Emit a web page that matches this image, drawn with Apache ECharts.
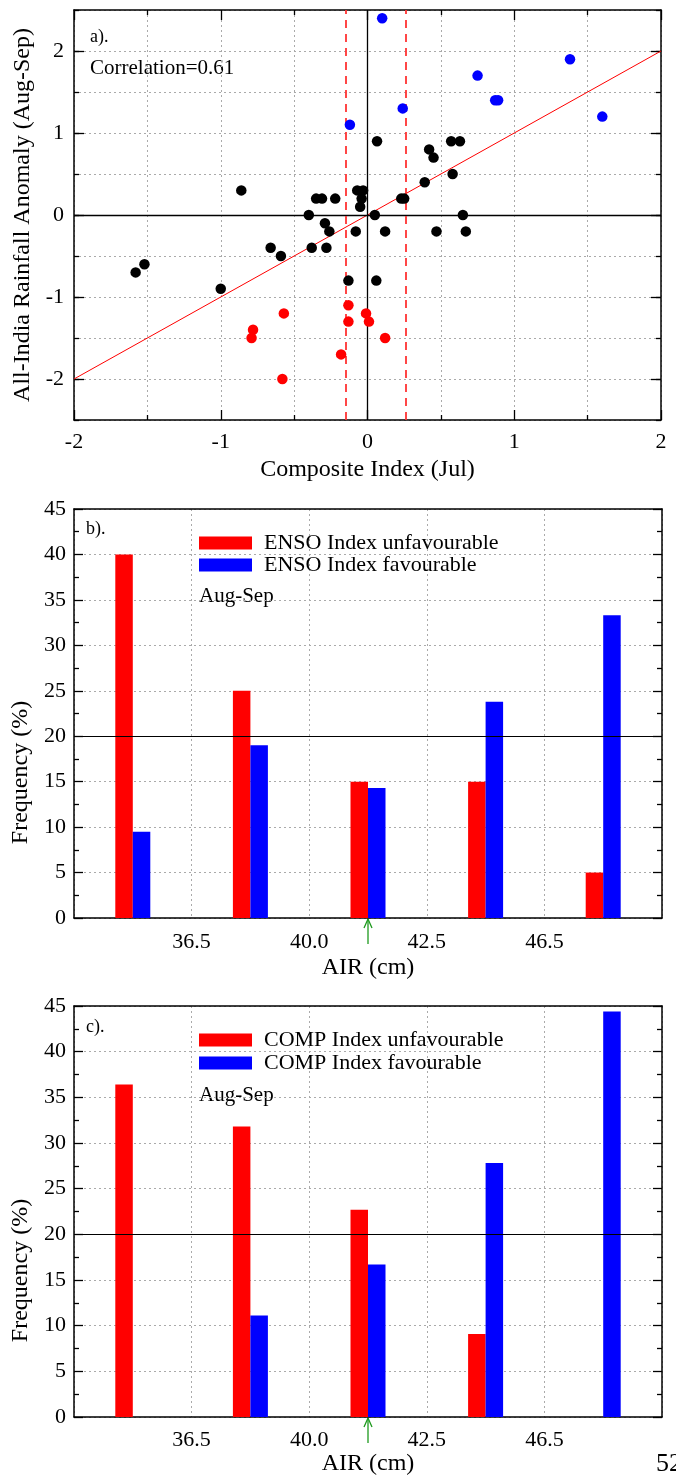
<!DOCTYPE html>
<html>
<head>
<meta charset="utf-8">
<title>Composite index and AIR frequency</title>
<script src="https://cdn.jsdelivr.net/npm/echarts@6/dist/echarts.min.js"></script>
<style>
  html, body { margin: 0; padding: 0; background: #fff; }
  #main { width: 676px; height: 1478px; }
</style>
</head>
<body>
<div id="main"></div>
<script>
// a) composite index (Jul) vs all-India rainfall anomaly (Aug-Sep)
const blackPts = [
  [-1.58, -0.70], [-1.52, -0.60], [-1.00, -0.90], [-0.86, 0.30], [-0.66, -0.40], [-0.59, -0.50],
  [-0.40, 0.00], [-0.38, -0.40], [-0.35, 0.20], [-0.31, 0.20], [-0.29, -0.10], [-0.28, -0.40],
  [-0.26, -0.20], [-0.22, 0.20], [-0.13, -0.80], [-0.08, -0.20], [-0.07, 0.30], [-0.03, 0.30],
  [-0.04, 0.20], [-0.05, 0.10], [0.05, 0.00], [0.06, -0.80], [0.065, 0.90], [0.12, -0.20],
  [0.23, 0.20], [0.25, 0.20], [0.39, 0.40], [0.42, 0.80], [0.45, 0.70], [0.47, -0.20],
  [0.57, 0.90], [0.58, 0.50], [0.63, 0.90], [0.65, 0.00], [0.67, -0.20]
];
const bluePts = [
  [0.10, 2.40], [-0.12, 1.10], [0.24, 1.30], [0.75, 1.70], [0.87, 1.40], [0.89, 1.40],
  [1.38, 1.90], [1.60, 1.20]
];
const redPts = [
  [-0.79, -1.50], [-0.78, -1.40], [-0.57, -1.20], [-0.58, -2.00], [-0.18, -1.70],
  [-0.13, -1.10], [-0.13, -1.30], [-0.01, -1.20], [0.01, -1.30], [0.12, -1.50]
];
const fitLine = [[-2, -2], [2, 2]];
const thresholds = [-0.15, 0.26];
const correlation = 0.61;
const yMajor = [-2, -1, 0, 1, 2];

// b), c) frequency of AIR per bin
const airBins = ['<36.5', '36.5-40.0', '40.0-42.5', '42.5-46.5', '>46.5'];
const airEdges = ['36.5', '40.0', '42.5', '46.5'];
const ensoUnfav = [40, 25, 15, 15, 5];
const ensoFav = [9.5, 19.0, 14.3, 23.8, 33.3];
const compUnfav = [36.4, 31.8, 22.7, 9.1, 0];
const compFav = [0, 11.1, 16.7, 27.8, 44.4];
const arrowBin = 2;

const FONT = 'Liberation Serif';
const RED = '#ff0000', BLUE = '#0000ff';

const boxLine = { show: true, onZero: false, lineStyle: { color: '#000', width: 1.5 } };
const noLine = { show: false, onZero: false };
const dotted = { show: true, lineStyle: { color: '#aaaaaa', type: [2, 3], width: 1 } };
const tickStyle = { color: '#000', width: 1.3 };
const nameStyle = { fontFamily: FONT, fontSize: 24, color: '#000' };
const labelStyle = { fontFamily: FONT, fontSize: 22, color: '#000' };
const noLabel = { show: false };

const chart = echarts.init(document.getElementById('main'), null, { renderer: 'canvas' });

const grids = [
  { left: 74, right: 15, top: 10, height: 410 },
  { left: 74, right: 14, top: 509, height: 409 },
  { left: 74, right: 14, top: 1006, height: 411 }
];

function isInt(v) { return Math.abs(v - Math.round(v)) < 1e-6; }

// scatter panel axes
const xAxes = [
  {
    gridIndex: 0, type: 'value', position: 'bottom', min: -2, max: 2, interval: 1,
    axisLine: boxLine,
    axisTick: { inside: true, length: 10, lineStyle: tickStyle },
    minorTick: { show: true, splitNumber: 2, length: 5, lineStyle: tickStyle },
    splitLine: dotted, minorSplitLine: dotted,
    axisLabel: Object.assign({ margin: 11 }, labelStyle),
    name: 'Composite Index (Jul)', nameLocation: 'middle', nameGap: 38, nameTextStyle: nameStyle
  },
  {
    gridIndex: 0, type: 'value', position: 'top', min: -2, max: 2, interval: 1,
    axisLine: boxLine,
    axisTick: { inside: true, length: 10, lineStyle: tickStyle },
    minorTick: { show: true, splitNumber: 2, length: 5, lineStyle: tickStyle },
    splitLine: { show: false }, axisLabel: noLabel
  }
];
const yAxes = [
  {
    gridIndex: 0, type: 'value', position: 'left', min: -2.5, max: 2.5, interval: 0.5,
    axisLine: boxLine,
    axisTick: { inside: true, length: 5, lineStyle: tickStyle },
    splitLine: dotted,
    axisLabel: Object.assign({ margin: 10, formatter: v => isInt(v) ? String(Math.round(v)) : '' }, labelStyle),
    name: 'All-India Rainfall Anomaly (Aug-Sep)', nameLocation: 'middle', nameGap: 35, nameTextStyle: nameStyle
  },
  {
    gridIndex: 0, type: 'value', position: 'right', min: -2.5, max: 2.5, interval: 0.5,
    axisLine: boxLine,
    axisTick: { inside: true, length: 5, lineStyle: tickStyle },
    splitLine: { show: false }, axisLabel: noLabel
  },
  {
    gridIndex: 0, type: 'value', position: 'left', min: -2.5, max: 2.5, interval: 0.5,
    axisLine: noLine,
    axisTick: { inside: true, length: 10, lineStyle: tickStyle, customValues: yMajor },
    splitLine: { show: false }, axisLabel: noLabel
  },
  {
    gridIndex: 0, type: 'value', position: 'right', min: -2.5, max: 2.5, interval: 0.5,
    axisLine: noLine,
    axisTick: { inside: true, length: 10, lineStyle: tickStyle, customValues: yMajor },
    splitLine: { show: false }, axisLabel: noLabel
  }
];

// bar panel axes, one set per grid
function barAxes(g, labelMargin, nameGap) {
  xAxes.push(
    {
      gridIndex: g, type: 'category', position: 'bottom', data: airBins, boundaryGap: true,
      axisLine: boxLine,
      axisTick: { inside: true, alignWithLabel: true, length: 9, lineStyle: tickStyle },
      axisLabel: noLabel, splitLine: { show: false }
    },
    {
      gridIndex: g, type: 'category', position: 'top', data: airBins, boundaryGap: true,
      axisLine: boxLine,
      axisTick: { inside: true, alignWithLabel: true, length: 9, lineStyle: tickStyle },
      axisLabel: noLabel, splitLine: { show: false }
    },
    {
      gridIndex: g, type: 'value', position: 'bottom', min: 0, max: 5, interval: 1,
      axisLine: noLine, axisTick: { show: false },
      splitLine: dotted,
      axisLabel: Object.assign({ margin: labelMargin, formatter: v => airEdges[v - 1] || '' }, labelStyle),
      name: 'AIR (cm)', nameLocation: 'middle', nameGap: nameGap, nameTextStyle: nameStyle
    }
  );
  yAxes.push(
    {
      gridIndex: g, type: 'value', position: 'left', min: 0, max: 45, interval: 5,
      axisLine: boxLine,
      axisTick: { inside: true, length: 9, lineStyle: tickStyle },
      minorTick: { show: true, splitNumber: 2, length: 5, lineStyle: tickStyle },
      splitLine: dotted,
      axisLabel: Object.assign({ margin: 8 }, labelStyle),
      name: 'Frequency (%)', nameLocation: 'middle', nameGap: 33,
      // name sits below the middle of the axis in the original
      nameTextStyle: Object.assign({ padding: [0, 118, 0, 0] }, nameStyle)
    },
    {
      gridIndex: g, type: 'value', position: 'right', min: 0, max: 45, interval: 5,
      axisLine: boxLine,
      axisTick: { inside: true, length: 9, lineStyle: tickStyle },
      minorTick: { show: true, splitNumber: 2, length: 5, lineStyle: tickStyle },
      splitLine: { show: false }, axisLabel: noLabel
    }
  );
}
barAxes(1, 13, 38);
barAxes(2, 12, 35);

function scatter(name, data, color) {
  return {
    name: name, type: 'scatter', xAxisIndex: 0, yAxisIndex: 0, data: data,
    symbolSize: 10.5, itemStyle: { color: color, opacity: 1 }, z: 5
  };
}

function bars(name, data, color, xIdx, yIdx, extra) {
  return Object.assign({
    name: name, type: 'bar', xAxisIndex: xIdx, yAxisIndex: yIdx, data: data,
    barWidth: 17.5, barGap: '0%', itemStyle: { color: color }
  }, extra || {});
}

const hLine20 = {
  silent: true, symbol: 'none', label: { show: false },
  lineStyle: { color: '#000', type: 'solid', width: 1.2 },
  data: [{ yAxis: 20 }]
};

const series = [
  {
    name: 'fit', type: 'line', xAxisIndex: 0, yAxisIndex: 0, data: fitLine,
    symbol: 'none', lineStyle: { color: RED, width: 1 }, z: 3,
    markLine: {
      silent: true, symbol: 'none', label: { show: false }, z: 4,
      data: [
        { xAxis: 0, lineStyle: { color: '#000', type: 'solid', width: 1.3 } },
        { yAxis: 0, lineStyle: { color: '#000', type: 'solid', width: 1.3 } }
      ].concat(thresholds.map(t => ({ xAxis: t, lineStyle: { color: '#ff3333', type: [8, 6], width: 1.8 } })))
    }
  },
  scatter('Normal', blackPts, '#000'),
  scatter('Excess', bluePts, BLUE),
  scatter('Deficit', redPts, RED),
  bars('ENSO Index unfavourable', ensoUnfav, RED, 2, 4, { markLine: hLine20 }),
  bars('ENSO Index favourable', ensoFav, BLUE, 2, 4),
  bars('COMP Index unfavourable', compUnfav, RED, 5, 6, { markLine: hLine20 }),
  bars('COMP Index favourable', compFav, BLUE, 5, 6)
];

function legendFor(names, top, gap) {
  return {
    data: names, orient: 'vertical', left: 199, top: top, padding: 0,
    itemWidth: 53, itemHeight: 13, itemGap: gap, icon: 'rect', selectedMode: false,
    textStyle: { fontFamily: FONT, fontSize: 22, color: '#000', padding: [0, 0, 0, 7] }
  };
}

function txt(id, text, left, top, size) {
  return {
    id: id, type: 'text', left: left, top: top, silent: true,
    style: { text: text, fontFamily: FONT, fontSize: size, fill: '#000' }
  };
}

const graphics = [
  txt('la', 'a).', 90, 28, 18),
  txt('corr', 'Correlation=' + correlation.toFixed(2), 90, 58, 21),
  txt('lb', 'b).', 86, 520, 18),
  txt('sb', 'Aug-Sep', 199, 586, 21),
  txt('lc', 'c).', 86, 1018, 18),
  txt('sc', 'Aug-Sep', 199, 1085, 21),
  txt('page', '52', 656, 1451, 26)
];

chart.setOption({
  animation: false,
  backgroundColor: '#fff',
  grid: grids,
  xAxis: xAxes,
  yAxis: yAxes,
  legend: [
    legendFor(['ENSO Index unfavourable', 'ENSO Index favourable'], 532, 0),
    legendFor(['COMP Index unfavourable', 'COMP Index favourable'], 1029, 1)
  ],
  series: series,
  graphic: graphics
});

// green arrow under the bin holding the mean AIR, placed through the axes
function arrow(id, xIdx, yIdx) {
  const x = chart.convertToPixel({ xAxisIndex: xIdx }, airBins[arrowBin]);
  const y = chart.convertToPixel({ yAxisIndex: yIdx }, 0);
  const style = { stroke: '#1e9a1e', lineWidth: 1.3, fill: null };
  return {
    id: id, type: 'group', silent: true,
    children: [
      { type: 'line', shape: { x1: x, y1: y + 1, x2: x, y2: y + 26 }, style: style },
      { type: 'polyline', shape: { points: [[x - 4, y + 10], [x, y + 1], [x + 4, y + 10]] }, style: style }
    ]
  };
}
chart.setOption({ graphic: graphics.concat([arrow('arb', 2, 4), arrow('arc', 5, 6)]) });
</script>
</body>
</html>
